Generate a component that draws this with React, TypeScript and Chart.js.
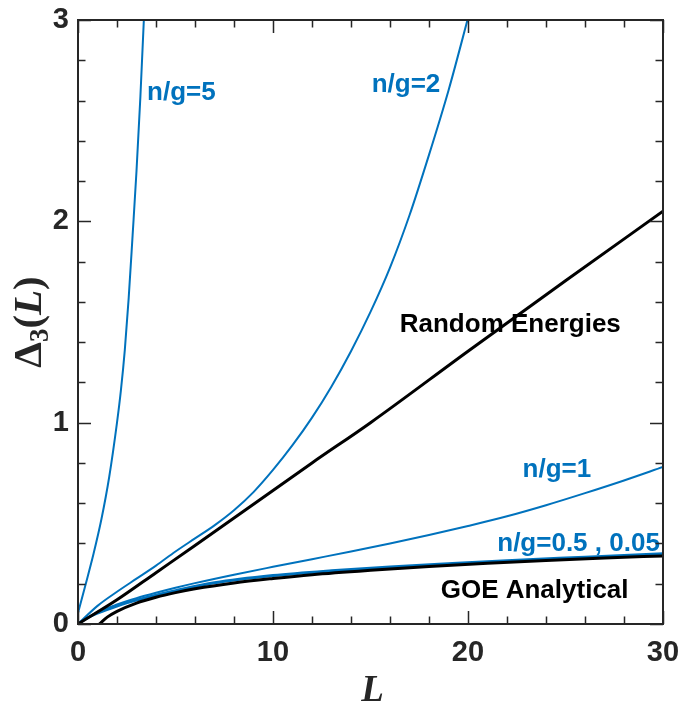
import React, { useEffect, useRef } from "react";
import { Chart, registerables } from "chart.js";

Chart.register(...registerables);

// ---- data ----
const L_RANDOM = [0, 2, 4, 6, 9, 12, 15, 20, 25, 30];
const D_RANDOM = [0, 0.12, 0.255, 0.39, 0.595, 0.8, 1.0, 1.355, 1.705, 2.05];

const L_GOE = [1.1, 1.5, 2, 3, 4, 5, 6, 8, 10, 12, 15, 18, 21, 24, 27, 30];
const D_GOE = [0, 0.034, 0.063, 0.104, 0.133, 0.156, 0.175, 0.204, 0.226, 0.245, 0.267, 0.286, 0.302, 0.316, 0.328, 0.338];

const L_NG_SMALL = [0, 0.5, 1, 2, 3, 4, 5, 7, 10, 13, 16, 19, 22, 26, 30];
const D_NG005 = [0, 0.03, 0.052, 0.087, 0.116, 0.141, 0.163, 0.202, 0.238, 0.262, 0.281, 0.297, 0.311, 0.328, 0.345];
const D_NG05 = [0, 0.033, 0.056, 0.092, 0.121, 0.146, 0.168, 0.207, 0.243, 0.267, 0.286, 0.302, 0.317, 0.334, 0.351];

const L_NG1 = [0, 1, 2, 3, 4, 5, 6, 8, 10, 12, 14, 16, 18, 20, 22, 24, 26, 28, 30];
const D_NG1 = [0, 0.058, 0.097, 0.128, 0.155, 0.18, 0.203, 0.245, 0.284, 0.322, 0.36, 0.4, 0.442, 0.487, 0.535, 0.59, 0.65, 0.713, 0.78];

const L_NG2 = [0, 1, 2, 3, 4, 5, 6, 7, 8, 9, 10, 11, 12, 13, 14, 15, 16, 17, 18, 19, 20, 20.3];
const D_NG2 = [0, 0.09, 0.16, 0.225, 0.29, 0.36, 0.425, 0.49, 0.565, 0.655, 0.765, 0.888, 1.025, 1.18, 1.355, 1.55, 1.77, 2.03, 2.33, 2.65, 3.01, 3.12];

const L_NG5 = [0, 0.4, 0.8, 1.2, 1.6, 2.0, 2.2, 2.4, 2.6, 2.8, 3.0, 3.2, 3.4, 3.5];
const D_NG5 = [0.055, 0.2, 0.35, 0.52, 0.73, 1.0, 1.16, 1.36, 1.62, 1.93, 2.25, 2.62, 3.05, 3.3];

// annotation texts and their anchor (left edge, vertical middle) in data units
const NOTE_TEXT = ["n/g=5", "n/g=2", "Random Energies", "n/g=1", "n/g=0.5 , 0.05", "GOE Analytical"];
const NOTE_L = [3.54, 15.06, 16.5, 22.8, 21.5, 18.6];
const NOTE_D = [2.64, 2.68, 1.485, 0.765, 0.40, 0.165];
const NOTE_IS_BLUE = [true, true, false, true, true, false];

const X_MIN = 0, X_MAX = 30, X_STEP = 2, X_MAJOR = 10;
const Y_MIN = 0, Y_MAX = 3, Y_STEP = 0.2, Y_MAJOR = 1;

const BLUE = "#0072BD";
const BLACK = "#000000";
const AXIS = "#262626";

const pts = (xs: number[], ys: number[]) => xs.map((x, i) => ({ x, y: ys[i] }));

const isMultiple = (v: number, m: number) => Math.abs(v / m - Math.round(v / m)) < 1e-6;

const decorPlugin = {
  id: "decor",
  afterDatasetsDraw(chart: any) {
    const { ctx, chartArea: a, scales } = chart;
    const xs = scales.x, ys = scales.y;
    ctx.save();
    // annotations
    ctx.font = "bold 26px 'Liberation Sans', Arial, sans-serif";
    ctx.textAlign = "left";
    ctx.textBaseline = "middle";
    NOTE_TEXT.forEach((t, i) => {
      ctx.fillStyle = NOTE_IS_BLUE[i] ? BLUE : BLACK;
      ctx.fillText(t, xs.getPixelForValue(NOTE_L[i]), ys.getPixelForValue(NOTE_D[i]));
    });
    // ticks (inside, all four sides)
    ctx.strokeStyle = AXIS;
    ctx.lineWidth = 1.5;
    ctx.beginPath();
    for (let v = X_MIN; v <= X_MAX + 1e-9; v += X_STEP) {
      const px = Math.round(xs.getPixelForValue(v)) + 0.5;
      const len = isMultiple(v, X_MAJOR) ? 13 : 7.5;
      ctx.moveTo(px, a.bottom); ctx.lineTo(px, a.bottom - len);
      ctx.moveTo(px, a.top); ctx.lineTo(px, a.top + len);
    }
    for (let k = 0; k <= Math.round((Y_MAX - Y_MIN) / Y_STEP); k++) {
      const v = Y_MIN + k * Y_STEP;
      const py = Math.round(ys.getPixelForValue(v)) + 0.5;
      const len = isMultiple(v, Y_MAJOR) ? 13 : 7.5;
      ctx.moveTo(a.left, py); ctx.lineTo(a.left + len, py);
      ctx.moveTo(a.right, py); ctx.lineTo(a.right - len, py);
    }
    ctx.stroke();
    // box
    ctx.lineWidth = 2;
    ctx.strokeRect(a.left, a.top, a.right - a.left, a.bottom - a.top);

    // x title
    ctx.fillStyle = AXIS;
    ctx.font = "italic bold 37px 'Liberation Serif', serif";
    ctx.textAlign = "center";
    ctx.textBaseline = "alphabetic";
    ctx.fillText("L", (a.left + a.right) / 2 + 2, 701);

    // y title: Δ_3(L), rotated
    ctx.translate(28, (a.top + a.bottom) / 2);
    ctx.rotate(-Math.PI / 2);
    const fMain = "bold 41px 'Liberation Serif', serif";
    const fSub = "bold 27px 'Liberation Serif', serif";
    const fIt = "italic bold 41px 'Liberation Serif', serif";
    const parts = [
      { t: "\u0394", f: fMain, dy: 0 },
      { t: "3", f: fSub, dy: 7 },
      { t: "(", f: fMain, dy: 0 },
      { t: "L", f: fIt, dy: 0 },
      { t: ")", f: fMain, dy: 0 },
    ];
    let total = 0;
    const widths = parts.map((p) => { ctx.font = p.f; const w = ctx.measureText(p.t).width; total += w; return w; });
    let x0 = -total / 2;
    ctx.textAlign = "left";
    parts.forEach((p, i) => {
      ctx.font = p.f;
      ctx.fillText(p.t, x0, 13 + p.dy);
      x0 += widths[i];
    });
    ctx.restore();
  },
};

const zeroPad = (s: any) => {
  s.paddingLeft = 0; s.paddingRight = 0; s.paddingTop = 0; s.paddingBottom = 0;
};

export default function App() {
  const ref = useRef<HTMLCanvasElement | null>(null);
  useEffect(() => {
    if (!ref.current) return;
    const line = (label: string, xs: number[], ys: number[], color: string, w: number) => ({
      label,
      data: pts(xs, ys),
      borderColor: color,
      backgroundColor: color,
      borderWidth: w,
      pointRadius: 0,
      tension: 0.4,
      cubicInterpolationMode: "monotone" as const,
      fill: false,
      clip: 0,
    });
    const chart = new Chart(ref.current, {
      type: "line",
      data: {
        datasets: [
          line("GOE Analytical", L_GOE, D_GOE, BLACK, 3),
          line("Random Energies", L_RANDOM, D_RANDOM, BLACK, 3),
          line("n/g=0.05", L_NG_SMALL, D_NG005, BLUE, 2),
          line("n/g=0.5", L_NG_SMALL, D_NG05, BLUE, 2),
          line("n/g=1", L_NG1, D_NG1, BLUE, 2),
          line("n/g=2", L_NG2, D_NG2, BLUE, 2),
          line("n/g=5", L_NG5, D_NG5, BLUE, 2),
        ],
      },
      options: {
        responsive: false,
        animation: false,
        layout: { padding: { top: 20, right: 18, left: 0, bottom: 0 } },
        plugins: { legend: { display: false }, tooltip: { enabled: false } },
        scales: {
          x: {
            type: "linear",
            min: X_MIN,
            max: X_MAX,
            grid: { display: false, drawTicks: false },
            border: { display: false },
            ticks: {
              stepSize: X_STEP,
              autoSkip: false,
              maxRotation: 0,
              padding: 12,
              color: AXIS,
              font: { family: "'Liberation Sans', Arial, sans-serif", size: 29, weight: "bold" },
              callback: (v: any) => (isMultiple(Number(v), X_MAJOR) ? String(Math.round(Number(v))) : ""),
            },
            afterFit: (s: any) => { s.height = 80; zeroPad(s); },
          },
          y: {
            type: "linear",
            min: Y_MIN,
            max: Y_MAX,
            grid: { display: false, drawTicks: false },
            border: { display: false },
            ticks: {
              stepSize: Y_STEP,
              autoSkip: false,
              padding: 9,
              color: AXIS,
              font: { family: "'Liberation Sans', Arial, sans-serif", size: 29, weight: "bold" },
              callback: (v: any) => (isMultiple(Number(v), Y_MAJOR) ? String(Math.round(Number(v))) : ""),
            },
            afterFit: (s: any) => { s.width = 78; zeroPad(s); },
          },
        },
      },
      plugins: [decorPlugin],
    });
    return () => chart.destroy();
  }, []);
  return (
    <div style={{ position: "fixed", left: 0, top: 0, width: 681, height: 704, background: "#fff" }}>
      <canvas ref={ref} width={681} height={704} style={{ display: "block" }} />
    </div>
  );
}
